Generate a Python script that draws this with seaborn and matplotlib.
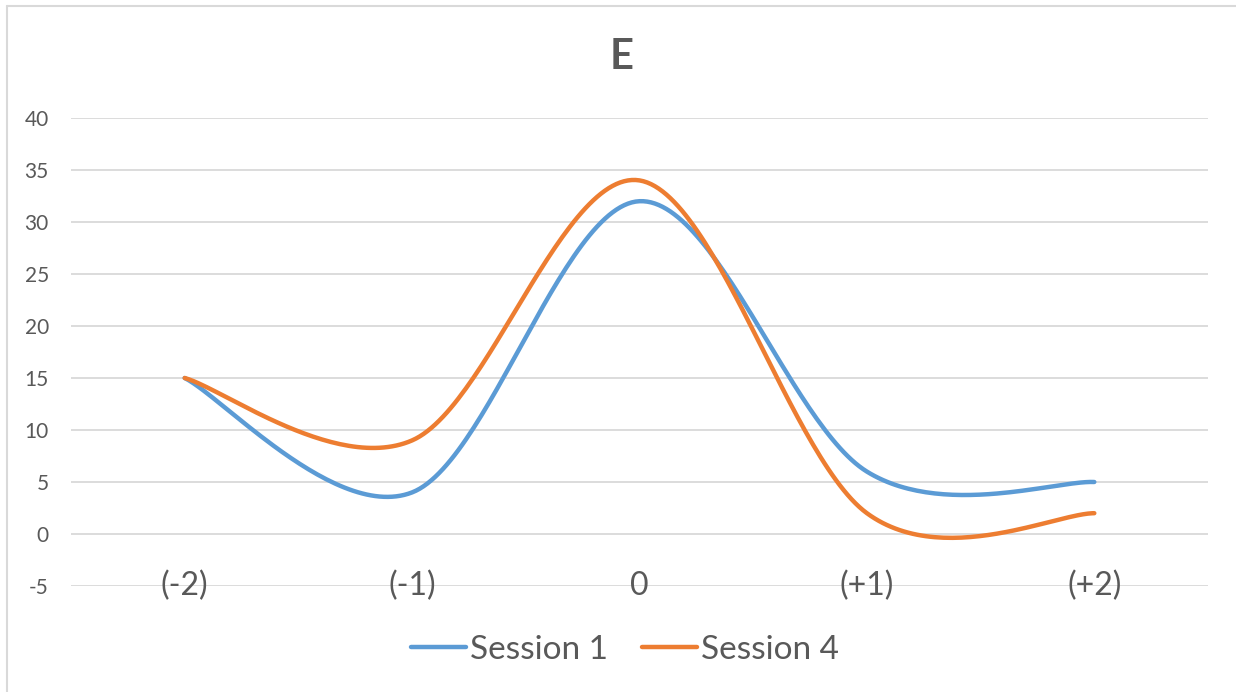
import numpy as np
import pandas as pd
import matplotlib
matplotlib.use("Agg")
import matplotlib.pyplot as plt
import seaborn as sns

categories = ["(-2)", "(-1)", "0", "(+1)", "(+2)"]
session_1 = [15, 4, 32, 6, 5]
session_4 = [15, 9, 34, 2, 2]
y_ticks = [-5, 0, 5, 10, 15, 20, 25, 30, 35, 40]

BLUE = "#5B9BD5"
ORANGE = "#ED7D31"
TEXT = "#595959"
GRID = "#D9D9D9"


def smooth(values, steps=60):
    """Cubic Bezier smoothing through every point (Catmull-Rom style tangents)."""
    pts = np.column_stack([np.arange(len(values), dtype=float), np.asarray(values, float)])
    ext = np.vstack([pts[0], pts, pts[-1]])
    t = np.linspace(0, 1, steps)[:, None]
    out = []
    for i in range(len(pts) - 1):
        p0, p1, p2, p3 = ext[i], ext[i + 1], ext[i + 2], ext[i + 3]
        c1 = p1 + (p2 - p0) / 6.0
        c2 = p2 - (p3 - p1) / 6.0
        seg = ((1 - t) ** 3) * p1 + 3 * ((1 - t) ** 2) * t * c1 + 3 * (1 - t) * t ** 2 * c2 + t ** 3 * p2
        out.append(seg if i == 0 else seg[1:])
    return np.vstack(out)


frames = []
for name, vals in [("Session 1", session_1), ("Session 4", session_4)]:
    curve = smooth(vals)
    frames.append(pd.DataFrame({"x": curve[:, 0], "y": curve[:, 1], "series": name}))
df = pd.concat(frames, ignore_index=True)

sns.set_theme(style="white")
plt.rcParams["font.family"] = ["Lato", "DejaVu Sans"]

fig = plt.figure(figsize=(12.36, 6.92), dpi=100)
ax = fig.add_axes([71 / 1236, 1 - 586 / 692, (1208 - 71) / 1236, (586 - 118) / 692])

for yv in y_ticks:
    ax.axhline(yv, color=GRID, lw=1.3, zorder=0)

sns.lineplot(data=df, x="x", y="y", hue="series", palette=[BLUE, ORANGE],
             sort=False, estimator=None, linewidth=3.2, ax=ax, legend=False,
             zorder=3, solid_capstyle="round")

ax.set_xlim(-0.5, len(categories) - 0.5)
ax.set_ylim(-5, 40)
ax.set_yticks(y_ticks)
ax.set_yticklabels([str(v) for v in y_ticks], color=TEXT, fontsize=15)
ax.tick_params(axis="y", length=0, pad=16)
ax.set_xticks([])
ax.set_xlabel("")
ax.set_ylabel("")
for s in ax.spines.values():
    s.set_visible(False)

for i, c in enumerate(categories):
    ax.text(i, -5, c, ha="center", va="center", fontsize=23, color=TEXT, zorder=4)

fig.text(622 / 1236, 1 - 57 / 692, "E", ha="center", va="center",
         fontsize=30, fontweight="bold", color=TEXT)

handles = [plt.Line2D([], [], color=BLUE, lw=3.2, solid_capstyle="round"),
           plt.Line2D([], [], color=ORANGE, lw=3.2, solid_capstyle="round")]
fig.legend(handles, ["Session 1", "Session 4"], loc="center",
           bbox_to_anchor=(625 / 1236, 1 - 650 / 692), ncol=2, frameon=False,
           fontsize=24, handlelength=1.65, handletextpad=0.12, columnspacing=1.0,
           labelcolor=TEXT)

# chart frame edges
fig.add_artist(plt.Line2D([7 / 1236, 7 / 1236], [0, 1 - 6 / 692], color=GRID, lw=1.5,
                          transform=fig.transFigure))
fig.add_artist(plt.Line2D([7 / 1236, 1], [1 - 6 / 692, 1 - 6 / 692], color=GRID, lw=1.5,
                          transform=fig.transFigure))

fig.savefig("out.png", dpi=100, facecolor="white")
